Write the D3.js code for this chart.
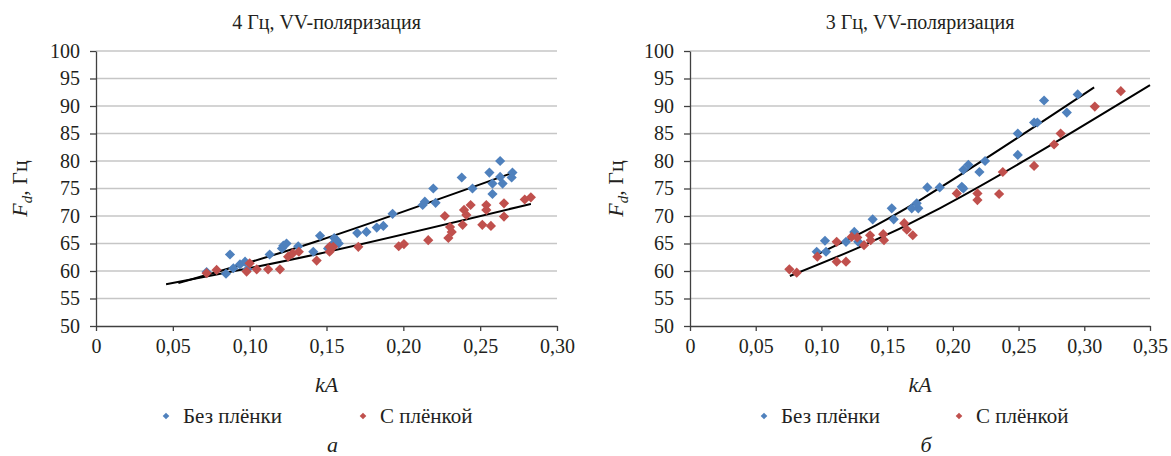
<!DOCTYPE html>
<html>
<head>
<meta charset="utf-8">
<script src="https://cdn.jsdelivr.net/npm/d3@7"></script>
<style>
  body { margin: 0; background: #fff; }
  svg text { font-family: 'Liberation Serif', 'Times New Roman', Tinos, 'Nimbus Roman', 'DejaVu Serif', serif; }
  .grid line { stroke: #c6c6c6; stroke-width: 1.5; }
  .axis path, .axis line { stroke: #404040; stroke-width: 1.3; }
  .axis text { font-size: 20px; fill: #231f20; }
</style>
</head>
<body>
<svg id="chart" width="1171" height="456"></svg>
<script>
'use strict';

var Y_TICKS = [50, 55, 60, 65, 70, 75, 80, 85, 90, 95, 100];
var SERIES_NAMES = ['Без плёнки', 'С плёнкой'];
var COLORS = ['#4f81bd', '#c0504d'];

// 4 Гц
var leftTitle = '4 Гц, VV-поляризация';
var leftXTicks = [0, 0.05, 0.10, 0.15, 0.20, 0.25, 0.30];
var leftNoFilm = [
  [0.072, 59.8], [0.0846, 59.5], [0.0872, 63.0], [0.0894, 60.5], [0.0937, 61.2], [0.097, 61.7],
  [0.0985, 60.3], [0.113, 63.0], [0.121, 64.1], [0.1219, 64.6], [0.124, 65.0], [0.1316, 64.5],
  [0.1414, 63.5], [0.1458, 66.4], [0.151, 64.1], [0.1544, 65.0], [0.1566, 65.6], [0.155, 66.0],
  [0.158, 65.0], [0.170, 66.9], [0.176, 67.1], [0.1827, 67.9], [0.187, 68.2], [0.193, 70.4],
  [0.2126, 72.0], [0.214, 72.6], [0.2195, 75.0], [0.221, 72.4], [0.238, 77.0], [0.245, 75.0],
  [0.256, 77.9], [0.258, 75.9], [0.258, 74.0], [0.263, 80.0], [0.263, 77.1], [0.2646, 75.9],
  [0.2705, 77.0], [0.271, 77.9]
];
var leftFilm = [
  [0.072, 59.6], [0.0785, 60.2], [0.098, 59.9], [0.100, 61.4], [0.1046, 60.3], [0.112, 60.3],
  [0.1197, 60.3], [0.125, 62.6], [0.128, 63.2], [0.132, 63.5], [0.1436, 61.9], [0.152, 64.4],
  [0.152, 63.5], [0.1544, 64.4], [0.1707, 64.4], [0.197, 64.5], [0.2004, 64.9], [0.2162, 65.6],
  [0.227, 70.0], [0.2293, 66.0], [0.2315, 67.1], [0.2304, 68.0], [0.2386, 68.4], [0.2395, 71.1],
  [0.241, 70.2], [0.2438, 72.0], [0.2514, 68.4], [0.254, 72.0], [0.254, 71.1], [0.257, 68.2],
  [0.2655, 72.3], [0.2655, 69.9], [0.279, 73.0], [0.283, 73.4]
];
var leftNoFilmTrend = [[0.0536, 57.8], [0.1458, 65.6], [0.2716, 77.9]];
var leftFilmTrend = [[0.0456, 57.6], [0.1458, 63.2], [0.283, 72.2]];

// 3 Гц
var rightTitle = '3 Гц, VV-поляризация';
var rightXTicks = [0, 0.05, 0.10, 0.15, 0.20, 0.25, 0.30, 0.35];
var rightNoFilm = [
  [0.0964, 63.5], [0.1027, 65.5], [0.1035, 63.5], [0.1187, 65.3], [0.125, 67.1], [0.128, 65.3],
  [0.139, 69.4], [0.1535, 71.4], [0.155, 69.4], [0.1687, 71.4], [0.1737, 71.4], [0.1725, 72.3],
  [0.1806, 75.2], [0.190, 75.2], [0.2068, 75.3], [0.208, 75.0], [0.208, 78.4], [0.2118, 79.3],
  [0.2202, 78.0], [0.2245, 80.0], [0.2494, 81.1], [0.2494, 85.0], [0.2618, 87.0], [0.2643, 87.0],
  [0.2694, 91.0], [0.2867, 88.8], [0.295, 92.1]
];
var rightFilm = [
  [0.0756, 60.3], [0.0812, 59.7], [0.0969, 62.6], [0.1116, 65.3], [0.1116, 61.7], [0.1187, 61.7],
  [0.123, 66.2], [0.1273, 66.1], [0.1324, 64.7], [0.137, 66.5], [0.1375, 65.6], [0.147, 66.7],
  [0.1476, 65.6], [0.163, 68.7], [0.165, 67.5], [0.1695, 66.5], [0.203, 74.1], [0.2187, 74.1],
  [0.2187, 72.9], [0.2352, 74.0], [0.238, 78.0], [0.2618, 79.1], [0.277, 83.0], [0.282, 85.0],
  [0.308, 89.9], [0.3278, 92.7]
];
var rightNoFilmTrend = [[0.0966, 63.0], [0.175, 72.9], [0.3075, 93.4]];
var rightFilmTrend = [[0.076, 59.1], [0.19, 71.4], [0.35, 93.8]];

var svg = d3.select('#chart');

drawChart({
  left: 96, right: 557, top: 51, bottom: 326,
  title: leftTitle, xTicks: leftXTicks,
  series: [leftNoFilm, leftFilm],
  trends: [leftNoFilmTrend, leftFilmTrend],
  yLabelX: 21, legendX: [166, 363], caption: 'а'
});

drawChart({
  left: 690, right: 1150, top: 51, bottom: 326,
  title: rightTitle, xTicks: rightXTicks,
  series: [rightNoFilm, rightFilm],
  trends: [rightNoFilmTrend, rightFilmTrend],
  yLabelX: 617, legendX: [764, 959], caption: 'б'
});


function tickFormat(t) {
  return t === 0 ? '0' : d3.format('.2f')(t).replace('.', ',');
}


function drawChart(cfg) {
  var width = cfg.right - cfg.left,
    height = cfg.bottom - cfg.top,
    cx = cfg.left + width / 2;

  var xScale = d3.scaleLinear()
    .domain([0, d3.max(cfg.xTicks)])
    .range([cfg.left, cfg.right]);

  var yScale = d3.scaleLinear()
    .domain([d3.min(Y_TICKS), d3.max(Y_TICKS)])
    .range([cfg.bottom, cfg.top]);

  var g = svg.append('g');

  // grid
  g.append('g')
    .attr('class', 'grid')
    .selectAll('line')
    .data(Y_TICKS.slice(1))
    .enter().append('line')
    .attr('x1', cfg.left)
    .attr('x2', cfg.right)
    .attr('y1', function(d) { return yScale(d); })
    .attr('y2', function(d) { return yScale(d); });

  // x axis
  g.append('g')
    .attr('class', 'axis')
    .attr('transform', 'translate(0,' + cfg.bottom + ')')
    .call(d3.axisBottom(xScale)
      .tickValues(cfg.xTicks)
      .tickSizeInner(5)
      .tickSizeOuter(0)
      .tickPadding(8)
      .tickFormat(tickFormat));

  // y axis
  g.append('g')
    .attr('class', 'axis')
    .attr('transform', 'translate(' + cfg.left + ',0)')
    .call(d3.axisLeft(yScale)
      .tickValues(Y_TICKS)
      .tickSizeInner(6)
      .tickSizeOuter(0)
      .tickPadding(10));

  // trend lines
  var line = d3.line()
    .curve(d3.curveNatural)
    .x(function(d) { return xScale(d[0]); })
    .y(function(d) { return yScale(d[1]); });

  cfg.trends.forEach(function(t) {
    g.append('path')
      .datum(t)
      .attr('fill', 'none')
      .attr('stroke', '#000')
      .attr('stroke-width', 2)
      .attr('d', line);
  });

  // points
  var marker = d3.symbol().type(d3.symbolSquare).size(52);

  cfg.series.forEach(function(s, i) {
    g.append('g')
      .selectAll('path')
      .data(s)
      .enter().append('path')
      .attr('d', marker)
      .attr('fill', COLORS[i])
      .attr('transform', function(d) {
        return 'translate(' + xScale(d[0]) + ',' + yScale(d[1]) + ') rotate(45)';
      });
  });

  // title
  g.append('text')
    .attr('x', cx)
    .attr('y', 29)
    .attr('text-anchor', 'middle')
    .attr('font-size', 20)
    .attr('fill', '#231f20')
    .text(cfg.title);

  // y label
  var yl = g.append('text')
    .attr('transform', 'translate(' + (cfg.yLabelX + 6) + ',' + (cfg.top + height / 2) + ') rotate(-90)')
    .attr('text-anchor', 'middle')
    .attr('font-size', 22)
    .attr('fill', '#231f20');
  yl.append('tspan').attr('font-style', 'italic').text('F');
  yl.append('tspan').attr('font-style', 'italic').attr('font-size', 15).attr('dy', 5).text('d');
  yl.append('tspan').attr('dy', -5).text(', Гц');

  // x label
  g.append('text')
    .attr('x', cx)
    .attr('y', 392)
    .attr('text-anchor', 'middle')
    .attr('font-size', 22)
    .attr('font-style', 'italic')
    .attr('fill', '#231f20')
    .text('kA');

  // legend
  SERIES_NAMES.forEach(function(name, i) {
    var lx = cfg.legendX[i];
    g.append('path')
      .attr('d', d3.symbol().type(d3.symbolSquare).size(22))
      .attr('fill', COLORS[i])
      .attr('transform', 'translate(' + lx + ',416) rotate(45)');
    g.append('text')
      .attr('x', lx + 17)
      .attr('y', 423)
      .attr('font-size', 21)
      .attr('fill', '#231f20')
      .text(name);
  });

  // caption
  g.append('text')
    .attr('x', cx + 6)
    .attr('y', 452)
    .attr('text-anchor', 'middle')
    .attr('font-size', 22)
    .attr('font-style', 'italic')
    .attr('fill', '#231f20')
    .text(cfg.caption);
}
</script>
</body>
</html>
